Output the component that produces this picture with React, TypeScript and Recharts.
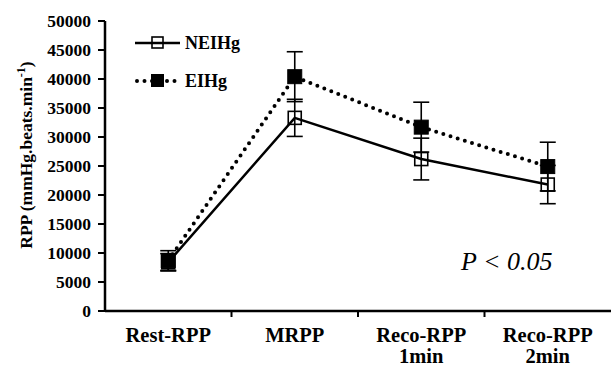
import React from 'react';
import { LineChart, Line, XAxis, YAxis, ErrorBar, Legend } from 'recharts';

const categoriesLine1 = ['Rest-RPP', 'MRPP', 'Reco-RPP', 'Reco-RPP'];
const categoriesLine2 = ['', '', '1min', '2min'];
const neihgValues = [8400, 33300, 26200, 21800];
const neihgErrors = [1500, 3200, 3600, 3300];
const eihgValues = [8700, 40400, 31700, 24900];
const eihgErrors = [1700, 4300, 4300, 4200];
const yTicks = [0, 5000, 10000, 15000, 20000, 25000, 30000, 35000, 40000, 45000, 50000];

const data = categoriesLine1.map((c, i) => ({
  x: i + 0.5,
  name: c,
  neihg: neihgValues[i],
  neihgErr: neihgErrors[i],
  eihg: eihgValues[i],
  eihgErr: eihgErrors[i],
}));

const FONT = '"Liberation Serif", "Times New Roman", serif';

const XTick = (props: any) => {
  const { x, y, payload } = props;
  const v = payload.value;
  if (Number.isInteger(v)) {
    return <line x1={x} x2={x} y1={y - 1} y2={y + 6} stroke="#000" strokeWidth={2} />;
  }
  const idx = Math.floor(v);
  return (
    <text x={x} y={y} textAnchor="middle" fontFamily={FONT} fontWeight="bold" fontSize={20.5} fill="#000">
      <tspan x={x} dy={30.5}>{categoriesLine1[idx]}</tspan>
      {categoriesLine2[idx] ? <tspan x={x} dy={21.5}>{categoriesLine2[idx]}</tspan> : null}
    </text>
  );
};

const OpenSquare = (props: any) => {
  const { cx, cy } = props;
  if (cx == null || cy == null) return null;
  return <rect x={cx - 6.5} y={cy - 6.5} width={13} height={13} fill="none" stroke="#000" strokeWidth={1.6} />;
};

const FilledSquare = (props: any) => {
  const { cx, cy } = props;
  if (cx == null || cy == null) return null;
  return <rect x={cx - 7} y={cy - 7} width={14} height={14} fill="#000" stroke="#000" strokeWidth={1} />;
};

const YLabel = (props: any) => {
  const cx = 32;
  const cy = 155;
  return (
    <text
      x={cx}
      y={cy}
      transform={`rotate(-90 ${cx} ${cy})`}
      textAnchor="middle"
      fontFamily={FONT}
      fontWeight="bold"
      fontSize={17.5}
      fill="#000"
    >
      RPP (mmHg.beats.min<tspan fontSize={12} dy={-7}>-1</tspan><tspan dy={7}>)</tspan>
    </text>
  );
};

const LegendContent = () => (
  <svg width={130} height={60} style={{ overflow: 'visible' }}>
    <line x1={0} x2={45} y1={9} y2={9} stroke="#000" strokeWidth={2.5} />
    <rect x={17} y={3} width={11} height={11} fill="none" stroke="#000" strokeWidth={1.6} />
    <text x={50} y={15} fontFamily={FONT} fontWeight="bold" fontSize={18} fill="#000">NEIHg</text>
    <line x1={2} x2={45} y1={47} y2={47} stroke="#000" strokeWidth={4} strokeDasharray="0 7.5" strokeLinecap="round" />
    <rect x={16} y={40} width={13} height={13} fill="#000" />
    <text x={50} y={53} fontFamily={FONT} fontWeight="bold" fontSize={18} fill="#000">EIHg</text>
  </svg>
);

export default function App() {
  return (
    <div style={{ position: 'absolute', left: 0, top: 0, width: 611, height: 368, background: '#fff' }}>
      <LineChart width={611} height={368} data={data} margin={{ top: 21, right: 0, left: 0, bottom: 0 }}>
        <XAxis
          type="number"
          dataKey="x"
          domain={[0, 4]}
          ticks={[0.5, 1, 1.5, 2, 2.5, 3, 3.5]}
          interval={0}
          tickLine={false}
          tickSize={0}
          tickMargin={0}
          height={57}
          axisLine={{ stroke: '#000', strokeWidth: 2.5 }}
          tick={<XTick />}
        />
        <YAxis
          type="number"
          domain={[0, 50000]}
          ticks={yTicks}
          interval={0}
          width={105}
          tickSize={7}
          tickMargin={7}
          axisLine={{ stroke: '#000', strokeWidth: 2.5 }}
          tickLine={{ stroke: '#000', strokeWidth: 2 }}
          tick={{ fill: '#000', fontFamily: FONT, fontWeight: 'bold', fontSize: 17.5 }}
          label={{ content: <YLabel /> }}
        />
        <Legend
          layout="vertical"
          align="center"
          verticalAlign="middle"
          wrapperStyle={{ position: 'absolute', left: 135, top: 34, width: 130, height: 60 }}
          content={<LegendContent />}
        />
        <Line
          dataKey="neihg"
          stroke="#000"
          strokeWidth={2.5}
          dot={<OpenSquare />}
          activeDot={false}
          isAnimationActive={false}
        >
          <ErrorBar dataKey="neihgErr" direction="y" width={8} stroke="#000" strokeWidth={1.6} />
        </Line>
        <Line
          dataKey="eihg"
          stroke="#000"
          strokeWidth={4}
          strokeDasharray="0 7.5"
          strokeLinecap="round"
          dot={<FilledSquare />}
          activeDot={false}
          isAnimationActive={false}
        >
          <ErrorBar dataKey="eihgErr" direction="y" width={8} stroke="#000" strokeWidth={1.6} />
        </Line>
      </LineChart>
      <div
        style={{
          position: 'absolute',
          left: 461,
          top: 246,
          fontFamily: FONT,
          fontStyle: 'italic',
          fontSize: 26,
          lineHeight: '32px',
          color: '#000',
          whiteSpace: 'nowrap',
        }}
      >
        P &lt; 0.05
      </div>
    </div>
  );
}
